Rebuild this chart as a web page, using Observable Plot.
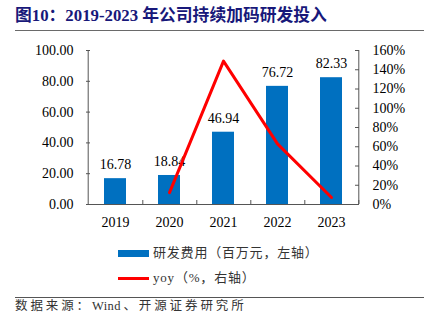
<!DOCTYPE html>
<html>
<head>
<meta charset="utf-8">
<script src="https://cdn.jsdelivr.net/npm/d3@7"></script>
<script src="https://cdn.jsdelivr.net/npm/@observablehq/plot@0.6"></script>
<style>
  html, body { margin: 0; padding: 0; background: #fff; }
  #wrap { position: relative; width: 438px; height: 322px; background: #fff; overflow: hidden; }
  .abs { position: absolute; white-space: nowrap; }
  #title { left: 15px; top: 7px; font: bold 16.8px "Liberation Serif", "Noto Sans CJK SC", serif; color: #18187a; line-height: 18px; }
  .rule { left: 15px; width: 409px; height: 0; border-top: 1.5px solid #6a6a6a; }
  #chart { left: 0; top: 35px; }
  .legtxt { font: 13px "Liberation Serif", "Noto Sans CJK SC", serif; color: #333; letter-spacing: 0.8px; line-height: 16px; }
  #source { left: 15px; top: 298px; font: 12.5px "Liberation Serif", "Noto Sans CJK SC", serif; color: #333; letter-spacing: 2.9px; line-height: 16px; }
  #source .lat { letter-spacing: 0.4px; margin-right: 2.5px; }
</style>
</head>
<body>
<div id="wrap">
  <div id="title" class="abs">图10：2019-2023 年公司持续加码研发投入</div>
  <div class="abs rule" style="top:30px"></div>
  <div id="chart" class="abs"></div>
  <div class="abs" style="left:118px;top:250px;width:31px;height:7px;background:#0070C0"></div>
  <div class="abs legtxt" style="left:153px;top:245px">研发费用（百万元，左轴）</div>
  <div class="abs" style="left:118px;top:277px;width:31px;height:3px;background:#FF0000"></div>
  <div class="abs legtxt" style="left:153px;top:270px">yoy（%，右轴）</div>
  <div class="abs rule" style="top:297px;border-top-color:#555"></div>
  <div id="source" class="abs">数据来源：<span class="lat">Wind</span>、开源证券研究所</div>
</div>
<script>
const years = ["2019", "2020", "2021", "2022", "2023"];
const rdExpense = [16.78, 18.84, 46.94, 76.72, 82.33];
const yoyYears = ["2020", "2021", "2022", "2023"];
const yoyPct = [12.3, 149.0, 63.0, 7.3];
const leftTicks = [0, 20, 40, 60, 80, 100];
const rightTicks = [0, 20, 40, 60, 80, 100, 120, 140, 160];

const barData = years.map((y, i) => ({year: y, value: rdExpense[i]}));
const lineData = yoyYears.map((y, i) => ({year: y, yoy: yoyPct[i]}));
const toLeft = p => p * 100 / 160;

const W = 438, H = 200, mL = 86, mR = 79, mT = 15, mB = 31;
const frameW = W - mL - mR, frameH = H - mT - mB;
const half = frameW / years.length / 2;
const axisColor = "#555";

const chart = Plot.plot({
  width: W, height: H,
  marginLeft: mL, marginRight: mR, marginTop: mT, marginBottom: mB,
  style: {fontFamily: "Liberation Serif", fontSize: "14px", color: "#000", background: "transparent", overflow: "visible"},
  x: {type: "band", domain: years, paddingInner: 0.6, paddingOuter: 0.3, label: null},
  y: {domain: [0, 100], label: null},
  marks: [
    Plot.barY(barData, {x: "year", y: "value", fill: "#0070C0"}),
    Plot.text(barData, {x: "year", y: "value", text: d => d.value.toFixed(2), dy: -14, fontSize: 14, fill: "#000"}),
    Plot.line(lineData, {x: "year", y: d => toLeft(d.yoy), stroke: "#FF0000", strokeWidth: 3}),
    Plot.ruleY([0], {stroke: axisColor}),
    Plot.tickX([years[0]], {x: d => d, dx: -half, stroke: axisColor}),
    Plot.tickX([years[years.length - 1]], {x: d => d, dx: half, stroke: axisColor}),
    Plot.tickX(years, {x: d => d, dx: half, insetTop: frameH - 4, stroke: axisColor}),
    Plot.tickY(leftTicks, {y: d => d, insetRight: frameW - 4, stroke: axisColor}),
    Plot.tickY(rightTicks.map(toLeft), {y: d => d, insetLeft: frameW - 4, stroke: axisColor}),
    Plot.axisY(leftTicks, {anchor: "left", tickSize: 0, tickPadding: 13, tickFormat: d => d.toFixed(2), label: null}),
    Plot.axisY(rightTicks.map(toLeft), {anchor: "right", tickSize: 0, tickPadding: 13, tickFormat: v => Math.round(v * 1.6) + "%", label: null}),
    Plot.axisX({tickSize: 0, tickPadding: 13, label: null})
  ]
});
document.getElementById("chart").appendChild(chart);
</script>
</body>
</html>
